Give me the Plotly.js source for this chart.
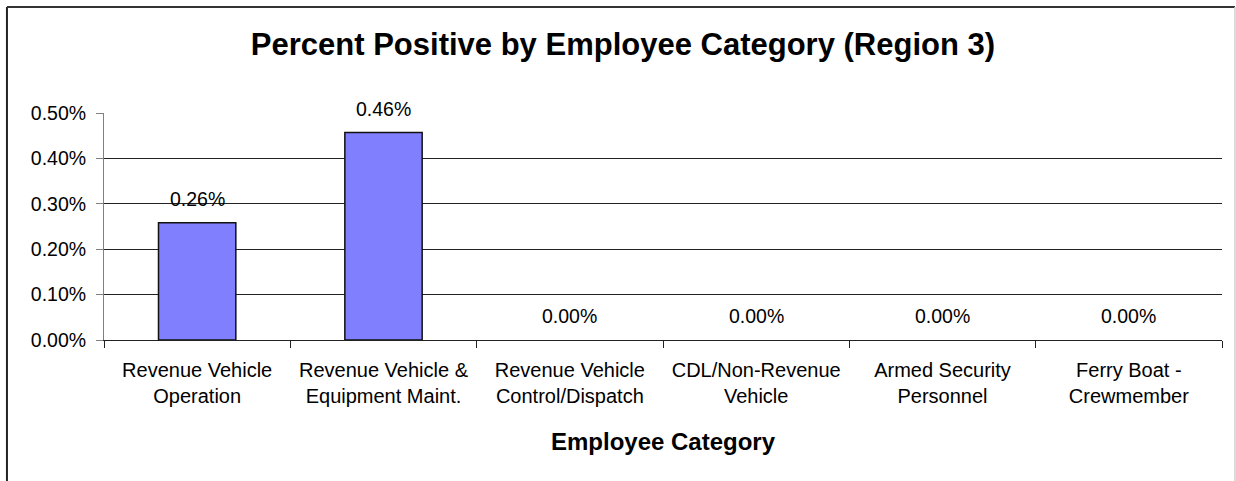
<!DOCTYPE html>
<html>
<head>
<meta charset="utf-8">
<script src="https://cdn.plot.ly/plotly-3.0.1.min.js"></script>
<style>
html,body{margin:0;padding:0;background:#fff;}
#chart{width:1236px;height:481px;}
</style>
</head>
<body>
<div id="chart"></div>
<script>
const categories = [
  "Revenue Vehicle<br>Operation",
  "Revenue Vehicle &<br>Equipment Maint.",
  "Revenue Vehicle<br>Control/Dispatch",
  "CDL/Non-Revenue<br>Vehicle",
  "Armed Security<br>Personnel",
  "Ferry Boat -<br>Crewmember"
];
const percentPositive = [0.00258, 0.00457, 0, 0, 0, 0];
const yTickVals = [0, 0.001, 0.002, 0.003, 0.004, 0.005];
const yTickText = ["0.00%", "0.10%", "0.20%", "0.30%", "0.40%", "0.50%"];
const labelTexts = ["0.26%", "0.46%", "0.00%", "0.00%", "0.00%", "0.00%"];

const FONT = "Liberation Sans, Arial, sans-serif";

const trace = {
  type: "bar",
  x: categories,
  y: percentPositive,
  marker: {color: "#8080FF", line: {color: "#111", width: percentPositive.map(v => v > 0 ? 1.5 : 0)}},
  hoverinfo: "skip"
};

const annotations = categories.map((c, i) => ({
  x: c, y: percentPositive[i], xref: "x", yref: "y",
  text: labelTexts[i], showarrow: false,
  yanchor: "bottom", yshift: 11,
  font: {family: FONT, size: 19.5, color: "#000"}
}));

const layout = {
  width: 1236, height: 481,
  margin: {l: 104, r: 14, t: 113, b: 141},
  paper_bgcolor: "#fff", plot_bgcolor: "#fff",
  showlegend: false,
  bargap: 0.585,
  title: {
    text: "<b>Percent Positive by Employee Category (Region 3)</b>",
    font: {family: FONT, size: 31, color: "#000"},
    xref: "container", x: 0.504, xanchor: "center",
    yref: "container", y: 0.908, yanchor: "middle"
  },
  xaxis: {
    type: "category",
    showline: true, linecolor: "#222", linewidth: 1,
    ticks: "outside", ticklen: 7, tickcolor: "#222", tickwidth: 1,
    tickson: "boundaries",
    ticklabelstandoff: 12,
    showgrid: false,
    tickfont: {family: FONT, size: 20, color: "#000"},
    title: {text: "<b>Employee Category</b>", font: {family: FONT, size: 24, color: "#000"}, standoff: 27}
  },
  yaxis: {
    range: [0, 0.005],
    tickvals: yTickVals, ticktext: yTickText,
    showline: true, linecolor: "#808080", linewidth: 1,
    ticks: "outside", ticklen: 7, tickcolor: "#808080", tickwidth: 1,
    ticklabelstandoff: 6,
    showgrid: true, gridcolor: "#222", gridwidth: 1,
    zeroline: false,
    tickfont: {family: FONT, size: 19.5, color: "#000"}
  },
  annotations: annotations,
  shapes: [
    {type: "line", xref: "paper", yref: "paper", x0: -0.0868, x1: -0.0868, y0: 1.467, y1: -1.2, line: {color: "#222", width: 2}},
    {type: "line", xref: "paper", yref: "paper", x0: -0.0868, x1: 1.0116, y0: 1.467, y1: 1.467, line: {color: "#333", width: 2}},
    {type: "line", xref: "paper", yref: "paper", x0: 1.0116, x1: 1.0116, y0: 1.467, y1: -1.2, line: {color: "#d0d0d0", width: 1.5}}
  ]
};

Plotly.newPlot("chart", [trace], layout, {displayModeBar: false, staticPlot: true});
</script>
</body>
</html>
